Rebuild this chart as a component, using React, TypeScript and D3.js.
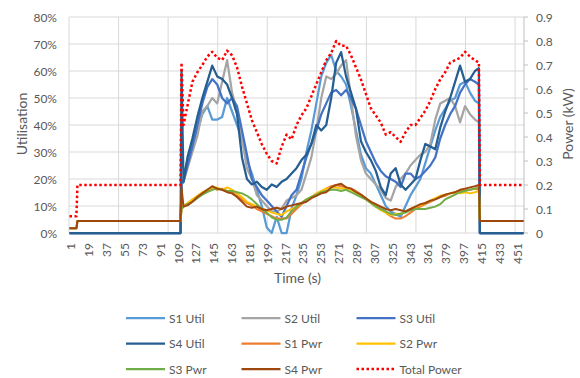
import React from "react";
import * as d3 from "d3";

// idle period before the load starts
const preTimes = [1, 8, 9, 113];
const preUtil = [0, 0, 0, 0];
const prePwr = [0.02, 0.02, 0.05, 0.05];
const preTotal = [0.07, 0.07, 0.2, 0.2];

// loaded period (seconds)
const activeTimes = [
  114, 116, 120, 125, 130, 135, 140, 145, 150, 155, 160, 165, 170, 175, 180, 185,
  190, 195, 200, 205, 210, 215, 220, 225, 230, 235, 240, 245, 250, 255, 260, 265,
  270, 275, 280, 285, 290, 295, 300, 305, 310, 315, 320, 325, 330, 335, 340, 345,
  350, 355, 360, 365, 370, 375, 380, 385, 390, 395, 400, 405, 410, 414,
];

// utilisation (%)
const s1Util = [
  18, 20, 27, 33, 38, 44, 47, 42, 42, 43, 50, 45, 40, 35, 27, 22, 16, 10, 2, 0,
  6, 0, 0, 9, 14, 20, 30, 38, 48, 58, 63, 66, 60, 58, 55, 47, 38, 29, 24, 22,
  18, 14, 10, 8, 7, 6, 10, 14, 17, 20, 26, 32, 38, 43, 46, 49, 50, 55, 56, 52,
  49, 48,
];
const s2Util = [
  18, 19, 24, 30, 36, 45, 47, 50, 48, 56, 64, 52, 45, 35, 24, 20, 14, 12, 10, 8,
  8, 9, 12, 13, 14, 16, 22, 28, 38, 50, 58, 57, 59, 62, 64, 50, 36, 27, 22, 20,
  18, 16, 13, 12, 17, 20, 22, 25, 27, 29, 30, 33, 42, 48, 49, 50, 47, 41, 47, 44,
  42, 41,
];
const s3Util = [
  18, 19, 25, 32, 40, 48, 54, 57, 55, 50, 48, 50, 47, 38, 29, 20, 17, 14, 12, 10,
  8, 6, 10, 14, 16, 22, 28, 33, 38, 44, 48, 52, 53, 51, 53, 50, 46, 40, 34, 30,
  26, 23, 21, 20, 19, 17, 22, 22, 20, 21, 23, 25, 28, 35, 40, 44, 47, 52, 55, 57,
  56, 55,
];
const s4Util = [
  60, 19, 28, 35, 43, 50, 56, 62, 58, 57, 55, 50, 44, 28, 20, 18, 19, 17, 16, 18,
  17, 19, 20, 22, 24, 27, 29, 33, 40, 38, 40, 50, 63, 67, 58, 52, 46, 34, 30, 27,
  23, 17, 14, 22, 24, 18, 16, 18, 20, 27, 33, 32, 31, 39, 45, 50, 56, 62, 56, 57,
  60, 61,
];

// power (kW)
const s1Pwr = [
  0.1, 0.11, 0.12, 0.135, 0.15, 0.165, 0.175, 0.19, 0.18, 0.185,
  0.175, 0.17, 0.155, 0.14, 0.125, 0.115, 0.1, 0.09, 0.08, 0.07,
  0.06, 0.06, 0.06, 0.08, 0.1, 0.12, 0.135, 0.15, 0.16, 0.17,
  0.185, 0.195, 0.2, 0.195, 0.19, 0.185, 0.175, 0.16, 0.145, 0.13,
  0.115, 0.1, 0.085, 0.07, 0.06, 0.06, 0.07, 0.085, 0.1, 0.11,
  0.12, 0.13, 0.14, 0.15, 0.155, 0.165, 0.17, 0.175, 0.18, 0.18,
  0.185, 0.18,
];
const s2Pwr = [
  0.1, 0.115, 0.125, 0.14, 0.155, 0.17, 0.18, 0.185, 0.19, 0.18,
  0.19, 0.18, 0.165, 0.15, 0.13, 0.12, 0.11, 0.1, 0.095, 0.085,
  0.08, 0.075, 0.09, 0.1, 0.11, 0.125, 0.14, 0.15, 0.165, 0.175,
  0.185, 0.19, 0.19, 0.185, 0.185, 0.18, 0.17, 0.155, 0.14, 0.125,
  0.11, 0.095, 0.085, 0.075, 0.08, 0.08, 0.09, 0.1, 0.11, 0.115,
  0.125, 0.135, 0.145, 0.155, 0.16, 0.165, 0.17, 0.165, 0.17, 0.165,
  0.17, 0.175,
];
const s3Pwr = [
  0.1, 0.11, 0.12, 0.13, 0.145, 0.16, 0.17, 0.18, 0.185, 0.18,
  0.175, 0.175, 0.17, 0.165, 0.155, 0.14, 0.12, 0.1, 0.085, 0.065,
  0.055, 0.055, 0.065, 0.09, 0.11, 0.125, 0.14, 0.15, 0.16, 0.17,
  0.175, 0.18, 0.18, 0.175, 0.18, 0.17, 0.16, 0.15, 0.14, 0.125,
  0.11, 0.1, 0.09, 0.08, 0.075, 0.08, 0.085, 0.095, 0.1, 0.1,
  0.1, 0.105, 0.11, 0.12, 0.14, 0.15, 0.16, 0.17, 0.175, 0.18,
  0.185, 0.19,
];
const s4Pwr = [
  0.19, 0.11, 0.115, 0.13, 0.15, 0.165, 0.18, 0.195, 0.185, 0.18,
  0.17, 0.165, 0.15, 0.13, 0.11, 0.105, 0.11, 0.1, 0.095, 0.1,
  0.105, 0.1, 0.11, 0.115, 0.12, 0.125, 0.13, 0.145, 0.155, 0.165,
  0.17, 0.19, 0.2, 0.205, 0.19, 0.185, 0.17, 0.16, 0.145, 0.13,
  0.12, 0.11, 0.1, 0.095, 0.1, 0.095, 0.09, 0.1, 0.11, 0.12,
  0.125, 0.135, 0.14, 0.15, 0.16, 0.165, 0.17, 0.18, 0.185, 0.19,
  0.195, 0.2,
];
const totalPwr = [
  0.71, 0.45, 0.53, 0.63, 0.67, 0.7, 0.735, 0.755, 0.73, 0.72,
  0.76, 0.74, 0.69, 0.61, 0.54, 0.47, 0.42, 0.37, 0.33, 0.3,
  0.29, 0.36, 0.41, 0.39, 0.45, 0.49, 0.52, 0.57, 0.62, 0.67,
  0.72, 0.75, 0.8, 0.78, 0.78, 0.74, 0.69, 0.64, 0.58, 0.52,
  0.49, 0.46, 0.41, 0.42, 0.4, 0.38, 0.42, 0.45, 0.45, 0.48,
  0.51, 0.55, 0.6, 0.64, 0.67, 0.71, 0.72, 0.73, 0.755, 0.735,
  0.72, 0.71,
];

// idle period after the load
const postTimes = [415, 459];
const postUtil = [0, 0];
const postPwr = [0.05, 0.05];
const postTotal = [0.2, 0.2];

const timeLabels = [
  1, 19, 37, 55, 73, 91, 109, 127, 145, 163, 181, 199, 217, 235, 253, 271, 289,
  307, 325, 343, 361, 379, 397, 415, 433, 451,
];
const utilTicks = [0, 10, 20, 30, 40, 50, 60, 70, 80];
const powerTicks = [0, 0.1, 0.2, 0.3, 0.4, 0.5, 0.6, 0.7, 0.8, 0.9];

const series = [
  { name: "S1 Util", values: s1Util, pre: preUtil, post: postUtil, axis: "left", color: "#5B9BD5", width: 2.25 },
  { name: "S2 Util", values: s2Util, pre: preUtil, post: postUtil, axis: "left", color: "#A5A5A5", width: 2.25 },
  { name: "S3 Util", values: s3Util, pre: preUtil, post: postUtil, axis: "left", color: "#4472C4", width: 2.25 },
  { name: "S4 Util", values: s4Util, pre: preUtil, post: postUtil, axis: "left", color: "#255E91", width: 2.25 },
  { name: "S1 Pwr", values: s1Pwr, pre: prePwr, post: postPwr, axis: "right", color: "#ED7D31", width: 2 },
  { name: "S2 Pwr", values: s2Pwr, pre: prePwr, post: postPwr, axis: "right", color: "#FFC000", width: 2 },
  { name: "S3 Pwr", values: s3Pwr, pre: prePwr, post: postPwr, axis: "right", color: "#70AD47", width: 2 },
  { name: "S4 Pwr", values: s4Pwr, pre: prePwr, post: postPwr, axis: "right", color: "#9E480E", width: 2 },
  { name: "Total Power", values: totalPwr, pre: preTotal, post: postTotal, axis: "right", color: "#FF0000", width: 2.5, dash: "2.5 2.5" },
];

const W = 580;
const H = 378;
const plot = { left: 69, right: 524, top: 17, bottom: 233 };
const nCats = 459;
const font = "Lato, 'Noto Sans', sans-serif";
const textColor = "#595959";
const gridColor = "#D9D9D9";

const App = () => {
  const x = d3.scaleLinear().domain([0.5, nCats + 0.5]).range([plot.left, plot.right]);
  const yL = d3.scaleLinear().domain([0, 80]).range([plot.bottom, plot.top]);
  const yR = d3.scaleLinear().domain([0, 0.9]).range([plot.bottom, plot.top]);

  const toPts = (times: number[], vals: number[]) => times.map((t, i) => [t, vals[i]] as [number, number]);

  const paths = series.map((s) => {
    const y = s.axis === "left" ? yL : yR;
    const pts = [...toPts(preTimes, s.pre), ...toPts(activeTimes, s.values), ...toPts(postTimes, s.post)];
    const line = d3.line<[number, number]>().x((d) => x(d[0])).y((d) => y(d[1]));
    return { ...s, d: line(pts) || "" };
  });

  const vGrid = d3.range(0, nCats, 50);

  const legendCols = [126, 241.5, 356.5];
  const legendRows = [318, 343.5, 369];

  return (
    <svg width={W} height={H} style={{ position: "absolute", left: 0, top: 0 }} fontFamily={font}>
      <rect width={W} height={H} fill="#fff" />
      {/* gridlines */}
      {utilTicks.map((t) => (
        <line key={"h" + t} x1={plot.left} x2={plot.right} y1={yL(t)} y2={yL(t)} stroke={gridColor} strokeWidth={1} />
      ))}
      {vGrid.map((c) => (
        <line key={"v" + c} x1={x(c + 0.5)} x2={x(c + 0.5)} y1={plot.top} y2={plot.bottom} stroke={gridColor} strokeWidth={1} />
      ))}
      {/* right axis line + ticks */}
      <line x1={plot.right} x2={plot.right} y1={plot.top} y2={plot.bottom} stroke="#BFBFBF" />
      {powerTicks.map((t) => (
        <line key={"rt" + t} x1={plot.right} x2={plot.right + 4} y1={yR(t)} y2={yR(t)} stroke="#BFBFBF" />
      ))}

      {/* series */}
      {paths.map((p) => (
        <path
          key={p.name}
          d={p.d}
          fill="none"
          stroke={p.color}
          strokeWidth={p.width}
          strokeDasharray={p.dash}
          strokeLinejoin="round"
        />
      ))}

      {/* left tick labels */}
      {utilTicks.map((t) => (
        <text key={"lt" + t} x={57} y={yL(t)} textAnchor="end" dominantBaseline="central" fontSize={12} fill={textColor}>
          {t + "%"}
        </text>
      ))}
      {/* right tick labels */}
      {powerTicks.map((t) => (
        <text key={"rl" + t} x={536} y={yR(t)} textAnchor="start" dominantBaseline="central" fontSize={12} fill={textColor}>
          {d3.format("")(+t.toFixed(1))}
        </text>
      ))}
      {/* x tick labels */}
      {timeLabels.map((t) => (
        <text
          key={"xt" + t}
          transform={`translate(${x(t) + 1.5},${243}) rotate(-90)`}
          textAnchor="end"
          dominantBaseline="central"
          fontSize={12}
          fill={textColor}
        >
          {t}
        </text>
      ))}

      {/* axis titles */}
      <text transform={`translate(21,124) rotate(-90)`} textAnchor="middle" dominantBaseline="central" fontSize={14} fill={textColor}>
        Utilisation
      </text>
      <text transform={`translate(567,124) rotate(-90)`} textAnchor="middle" dominantBaseline="central" fontSize={14} fill={textColor}>
        Power (kW)
      </text>
      <text x={297.5} y={283} textAnchor="middle" fontSize={14} fill={textColor}>
        Time (s)
      </text>

      {/* legend */}
      {series.map((s, i) => {
        const lx = legendCols[i % 3];
        const ly = legendRows[Math.floor(i / 3)];
        return (
          <g key={"lg" + s.name}>
            <line x1={lx} x2={lx + 39} y1={ly} y2={ly} stroke={s.color} strokeWidth={s.dash ? 2.5 : 2.25} strokeDasharray={s.dash} />
            <text x={lx + 43} y={ly} dominantBaseline="central" fontSize={12} fill={textColor}>
              {s.name}
            </text>
          </g>
        );
      })}
    </svg>
  );
};

export default App;
